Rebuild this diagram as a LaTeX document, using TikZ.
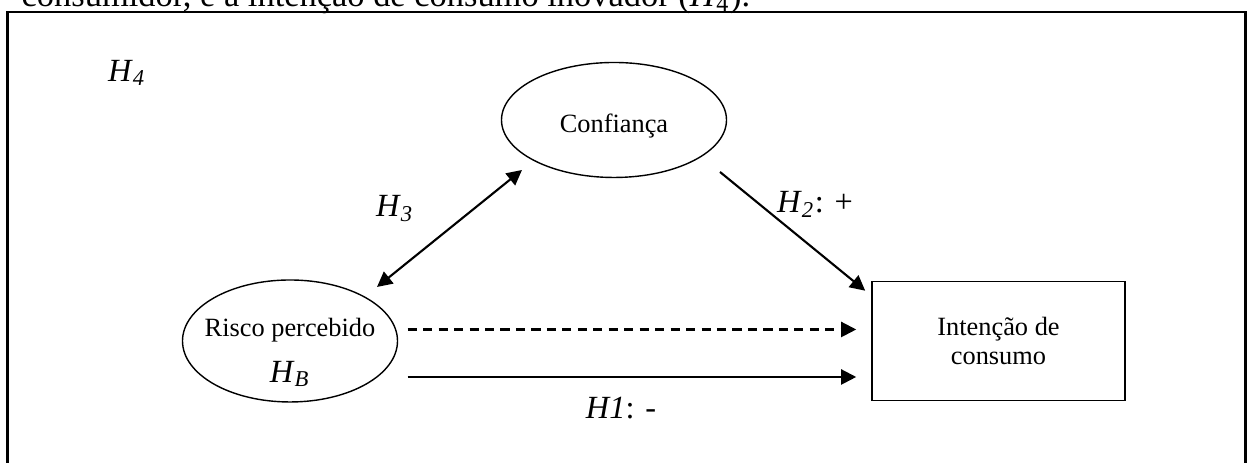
\documentclass[tikz,border=0pt]{standalone}
\usepackage{fontspec}
\setmainfont{Liberation Serif}
\usepackage{tikz}
\usetikzlibrary{arrows.meta,shapes.geometric}

\begin{document}
\begin{tikzpicture}[>={Triangle[length=4.3pt,width=4.3pt]},
  construct/.style={ellipse,draw,line width=0.4pt,inner sep=0pt},
  txt/.style={inner sep=0pt,font=\fontsize{7.5}{8.25}\selectfont},
  hyp/.style={inner sep=0pt,anchor=base,font=\fontsize{9.2}{11}\selectfont},
  link/.style={line width=0.6pt}]
  \useasboundingbox (0,0) rectangle (12.47,4.63);
  \clip (0,0) rectangle (12.47,4.63);
  % text line of the page, cut off by the figure
  \node[txt,anchor=base west,font=\fontsize{9.8}{12}\selectfont] (pagetext) at (0.21,4.568) {consumidor, e a intenção de consumo inovador (\textit{H}\textsubscript{4}).};
  \draw[line width=0.65pt] (0.075,-0.2) rectangle (12.455,4.51);
  % constructs
  \node[construct,minimum width=2.25cm,minimum height=1.15cm] (conf) at (6.14,3.43) {};
  \node[txt,anchor=base] (conftext) at ([yshift=-0.127cm]conf.center) {Confiança};
  \node[construct,minimum width=2.15cm,minimum height=1.22cm] (risco) at (2.90,1.22) {};
  \node[txt,anchor=base] (riscotext) at ([yshift=0.04cm]risco.center) {Risco percebido};
  \node[hyp] (hb) at ([yshift=-0.42cm]risco.center) {\textit{H}\textsubscript{\textit{B}}};
  \node[txt,draw,line width=0.45pt,align=center,minimum width=2.53cm,minimum height=1.19cm] (intencao) at (9.985,1.22) {Intenção de\\consumo};
  % hypotheses
  \draw[link,<->] ([shift={(0.87,0.54)}]risco.center) -- ([shift={(-0.92,-0.50)}]conf.center);
  \draw[link,->] ([shift={(1.06,-0.52)}]conf.center) -- ([shift={(-0.06,-0.10)}]intencao.north west);
  \draw[link,->,dash pattern=on 2.6pt off 1.8pt] ([shift={(0.095,0.115)}]risco.east) -- ([shift={(-0.15,0.115)}]intencao.west);
  \draw[link,->] ([shift={(0.095,-0.36)}]risco.east) -- ([shift={(-0.15,-0.36)}]intencao.west);
  \node[hyp] (h4) at (1.27,3.81) {\textit{H}\textsubscript{\textit{4}}};
  \node[hyp] (h3) at (3.95,2.46) {\textit{H}\textsubscript{\textit{3}}};
  \node[hyp] (h2) at (8.15,2.50) {\textit{H}\textsubscript{\textit{2}}: +};
  \node[hyp] (h1) at (6.21,0.44) {\textit{H1}: -};
\end{tikzpicture}
\end{document}
